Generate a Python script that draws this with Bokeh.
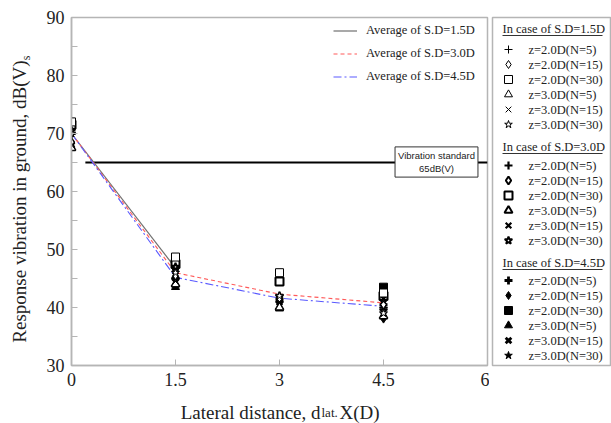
import math
from bokeh.plotting import figure
from bokeh.models import FixedTicker, Label, Legend, LegendItem, Range1d
from bokeh.layouts import row, column
from bokeh.embed import file_html
from bokeh.resources import INLINE
from bokeh.core.properties import value

# ---------------- data ----------------
x_dist = [0, 1.5, 3, 4.5]
x_ticks = [0, 1.5, 3, 4.5, 6]
x_tick_labels = ["0", "1.5", "3", "4.5", "6"]
y_ticks = [30, 40, 50, 60, 70, 80, 90]
y_minor = [35, 45, 55, 65, 75, 85]

avg_15_x = [0, 1.5]
avg_15 = [70.0, 46.8]
avg_30 = [70.0, 46.0, 42.3, 40.8]
avg_45 = [70.0, 45.2, 41.6, 40.2]
avg_labels = ["Average of S.D=1.5D", "Average of S.D=3.0D", "Average of S.D=4.5D"]

standard_x = [0.2, 6]
standard_y = [65, 65]
standard_text = "Vibration standard\n65dB(V)"

y_title = ["Response vibration in ground, dB(V)", "s"]
x_title = ["Lateral distance, d", "lat.", "X(D)"]

sd_titles = ["In case of S.D=1.5D", "In case of S.D=3.0D", "In case of S.D=4.5D"]
case_labels = ["z=2.0D(N=5)", "z=2.0D(N=15)", "z=2.0D(N=30)",
               "z=3.0D(N=5)", "z=3.0D(N=15)", "z=3.0D(N=30)"]
case_markers = ["cross", "diamond", "square", "triangle", "x", "star"]

vals_sd15 = [
    [70.0, 45.0, 41.0, 40.0],
    [68.5, 45.5, 41.5, 40.5],
    [72.0, 48.7, 46.0, 42.5],
    [67.5, 44.0, 40.0, 38.5],
    [68.0, 44.5, 41.0, 41.0],
    [70.0, 46.0, 42.0, 39.0],
]
vals_sd30 = [
    [70.0, 45.0, 41.5, 40.0],
    [68.5, 46.5, 41.5, 40.5],
    [71.5, 47.5, 44.5, 42.0],
    [67.5, 44.0, 40.0, 38.5],
    [68.0, 45.5, 41.0, 41.5],
    [70.5, 47.0, 42.0, 39.5],
]
vals_sd45 = [
    [70.0, 45.0, 41.0, 40.5],
    [68.0, 44.0, 40.5, 38.0],
    [71.5, 47.5, 44.5, 43.5],
    [67.5, 43.5, 39.8, 38.5],
    [68.0, 45.0, 41.5, 41.5],
    [70.0, 46.0, 41.8, 39.0],
]
all_vals = [vals_sd15, vals_sd30, vals_sd45]

SERIF = "Liberation Serif"
SANS = "Liberation Sans"
H = 398          # height of the plot row
HX = 25          # height of the x-title strip
YLAB_W = 36      # width of the y-title strip
TXT = "#222222"
GREY = "#b5b5b5"


def marker_style(group, marker):
    thin_line = marker in ("cross", "x")
    if group == 0:
        return dict(line_color="black", fill_color="white", line_width=1)
    if group == 1:
        return dict(line_color="black", fill_color="white",
                    line_width=2.2 if thin_line else 2.0)
    return dict(line_color="black", fill_color="black",
                line_width=2.8 if thin_line else 1)


def blank(width, height, xr, yr):
    f = figure(width=width, height=height, x_range=xr, y_range=yr,
               output_backend="svg", toolbar_location=None,
               x_axis_type=None, y_axis_type=None,
               min_border_left=0, min_border_right=0,
               min_border_top=0, min_border_bottom=0)
    f.grid.visible = False
    f.outline_line_color = None
    return f


# ---------------- y-title strip ----------------
p_yl = blank(YLAB_W, H, Range1d(0, YLAB_W), Range1d(0, H))
p_yl.text(x=[19], y=[H - 49], text=[y_title[0]], angle=math.pi / 2,
          text_font=value(SERIF), text_font_size="19px", text_color=TXT,
          text_align="right", text_baseline="middle")
p_yl.text(x=[25], y=[H - 49], text=[y_title[1]], angle=math.pi / 2,
          text_font=value(SERIF), text_font_size="12px", text_color=TXT,
          text_align="left", text_baseline="middle")

# ---------------- main plot ----------------
p1 = figure(width=489 - YLAB_W, height=H, x_range=(0, 6), y_range=(30, 90),
            output_backend="svg", toolbar_location=None,
            min_border_left=71 - YLAB_W, min_border_right=2,
            min_border_top=17, min_border_bottom=H - 366)
p1.grid.visible = False
p1.outline_line_color = GREY
p1.outline_line_width = 1.5

p1.xaxis.ticker = FixedTicker(ticks=x_ticks)
p1.xaxis.major_label_overrides = {t: l for t, l in zip(x_ticks, x_tick_labels)}
p1.yaxis.ticker = FixedTicker(ticks=y_ticks, minor_ticks=y_minor)
for ax in (p1.xaxis[0], p1.yaxis[0]):
    ax.axis_line_color = GREY
    ax.axis_line_width = 1.5
    ax.major_tick_in = 6
    ax.major_tick_out = 0
    ax.minor_tick_in = 6
    ax.minor_tick_out = 0
    ax.major_tick_line_color = GREY
    ax.minor_tick_line_color = GREY
    ax.major_label_text_font = SERIF
    ax.major_label_text_font_size = "18px"
    ax.major_label_text_color = TXT
p1.xaxis.minor_tick_line_color = None
p1.xaxis.major_label_standoff = 7
p1.yaxis.major_label_standoff = 7

# vibration standard line
p1.line(standard_x, standard_y, line_color="black", line_width=2.2)

# average lines
r15 = p1.line(avg_15_x, avg_15, line_color="#707070", line_width=1.2)
r30 = p1.line(x_dist, avg_30, line_color="#ff5a5a", line_width=1.1, line_dash="4 3")
r45 = p1.line(x_dist, avg_45, line_color="#5a5aff", line_width=1.1, line_dash="8 3 2 3")

# measured points (filled first, thin open last)
for g in (2, 1, 0):
    for mk, vals in zip(case_markers, all_vals[g]):
        p1.scatter(x_dist, vals, marker=mk, size=8, **marker_style(g, mk))

leg = Legend(items=[LegendItem(label=avg_labels[0], renderers=[r15]),
                    LegendItem(label=avg_labels[1], renderers=[r30]),
                    LegendItem(label=avg_labels[2], renderers=[r45])],
             location=(262, 281), padding=0, margin=0, spacing=8,
             glyph_width=24, glyph_height=15, label_height=15,
             label_standoff=9, border_line_alpha=0, background_fill_alpha=0,
             label_text_font=SERIF, label_text_font_size="12.5px",
             label_text_color=TXT)
p1.add_layout(leg)

# box label (position in pixels relative to the plot frame)
p1.add_layout(Label(x=365, y=203.5, x_units="screen", y_units="screen",
                    text=standard_text, text_font=SANS, text_font_size="9.5px",
                    text_align="center", text_baseline="middle",
                    text_color=TXT,
                    border_line_color="#333333", border_line_width=1,
                    background_fill_color="white", padding=3))

# ---------------- side legend panel ----------------
p2 = figure(width=611 - 489, height=H, x_range=Range1d(0, 118), y_range=Range1d(348, 0),
            output_backend="svg", toolbar_location=None,
            x_axis_type=None, y_axis_type=None,
            min_border_left=3, min_border_right=1,
            min_border_top=17, min_border_bottom=H - 365)
p2.grid.visible = False
p2.outline_line_color = GREY
p2.outline_line_width = 1.5

title_y = [11, 129, 245]
row_y0 = [32, 148, 263]
row_step = 15
for g in range(3):
    p2.text(x=[10], y=[title_y[g]], text=[sd_titles[g]],
            text_font=value(SERIF), text_font_size="12.5px",
            text_color=TXT, text_baseline="middle")
    p2.segment(x0=[10], y0=[title_y[g] + 7], x1=[110], y1=[title_y[g] + 7],
               line_color="#333333", line_width=1)
    ys = [row_y0[g] + row_step * i for i in range(6)]
    for i, mk in enumerate(case_markers):
        p2.scatter([16], [ys[i]], marker=mk, size=8, **marker_style(g, mk))
    p2.text(x=[36] * 6, y=ys, text=case_labels,
            text_font=value(SERIF), text_font_size="12.5px",
            text_color=TXT, text_baseline="middle")

# ---------------- x-title strip ----------------
p_xl = blank(489, HX, Range1d(0, 489), Range1d(HX, 0))
p_xl.text(x=[320], y=[14], text=[x_title[0]],
          text_font=value(SERIF), text_font_size="19px", text_color=TXT,
          text_align="right", text_baseline="alphabetic")
p_xl.text(x=[321], y=[14], text=[x_title[1]],
          text_font=value(SERIF), text_font_size="13px", text_color=TXT,
          text_align="left", text_baseline="alphabetic")
p_xl.text(x=[339], y=[14], text=[x_title[2]],
          text_font=value(SERIF), text_font_size="19px", text_color=TXT,
          text_align="left", text_baseline="alphabetic")

layout = column(row(p_yl, p1, p2, spacing=0), p_xl, spacing=0)
open("out.html", "w").write(file_html(layout, INLINE))
